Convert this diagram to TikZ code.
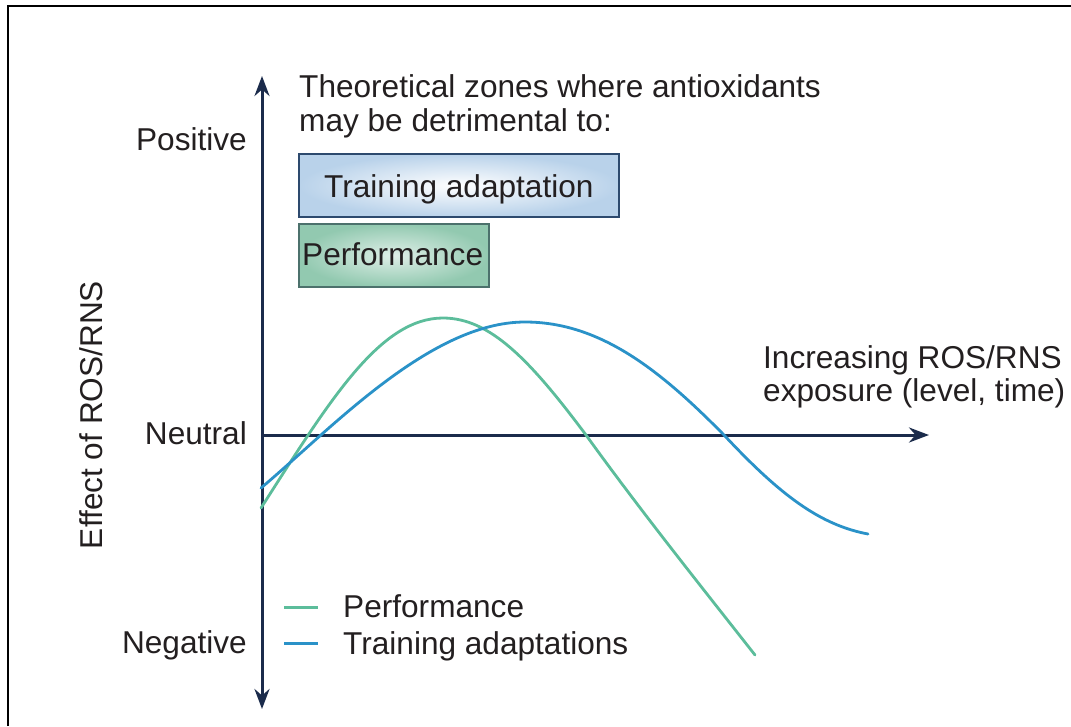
\documentclass[tikz,border=0pt]{standalone}
\usepackage{fontspec}
\setmainfont{Liberation Sans}
\usetikzlibrary{arrows.meta}
\definecolor{navy}{HTML}{1B2B4B}
\definecolor{perfgreen}{HTML}{5CBD9B}
\definecolor{trainblue}{HTML}{2A92C8}
\definecolor{boxblue}{HTML}{B9D2EA}
\definecolor{boxblueline}{HTML}{2D4A6E}
\definecolor{boxgreen}{HTML}{92C9B0}
\definecolor{boxgreenline}{HTML}{4C716C}
\definecolor{txt}{HTML}{231F20}
\begin{document}
\begin{tikzpicture}[x=1pt,y=-1pt,
  lbl/.style={font=\fontsize{31.6}{34}\selectfont, text=txt, inner sep=0pt},
  axisline/.style={draw=navy, line width=3pt},
  axtip/.style={-{Stealth[length=20pt,width=15pt]}},
  curve/.style={line width=2.8pt, line cap=round},
  zonebox/.style={line width=2.2pt}]
\useasboundingbox (0,0) rectangle (1071,726);
% frame
\draw[line width=2pt] (8.3,726) -- (8.3,6.3) -- (1071,6.3);
% axes
\coordinate (org) at (262,435);
\coordinate (ytop) at (262,76);
\coordinate (ybot) at (262,709);
\coordinate (xend) at (929,435);
\draw[axisline, {Stealth[length=20pt,width=15pt]}-{Stealth[length=20pt,width=15pt]}] (ybot) -- (ytop);
\draw[axisline, axtip] (org) -- (xend);
% axis labels
\node[lbl, anchor=base east] (pos) at (247,150) {Positive};
\node[lbl, anchor=base east] (neu) at (247,444) {Neutral};
\node[lbl, anchor=base east] (neg) at (247,653) {Negative};
\node[lbl, anchor=base, rotate=90] (eff) at (102,415) {Effect of ROS/RNS};
\node[lbl, anchor=base west] (xl1) at (763,368) {Increasing ROS/RNS};
\node[lbl, anchor=base west] (xl2) at (763,401) {exposure (level, time)};
% title
\node[lbl, anchor=base west] (t1) at (299,97) {Theoretical zones where antioxidants};
\node[lbl, anchor=base west] (t2) at (299,131) {may be detrimental to:};
% zone boxes
\draw[zonebox, draw=boxblueline, inner color=white, outer color=boxblue] (299,154) rectangle (619,217);
\node[lbl, anchor=base west] (tbox) at (324,197) {Training adaptation};
\draw[zonebox, draw=boxgreenline, inner color=white!70!boxgreen, outer color=boxgreen] (299,224) rectangle (489,287);
\node[lbl, anchor=base west] (pbox) at (302,265) {Performance};
% curves
\draw[curve, perfgreen] (261,508) .. controls (330,400) and (380,318) .. (443,318)
  .. controls (490,318) and (530,360) .. (586,435)
  .. controls (640,510) and (700,585) .. (755,655);
\draw[curve, trainblue] (261,488) .. controls (330,430) and (430,322) .. (525,322)
  .. controls (600,322) and (660,370) .. (724,435)
  .. controls (780,495) and (820,525) .. (868,534);
% legend
\coordinate (lg1a) at (284,607); \coordinate (lg1b) at (318,607);
\coordinate (lg2a) at (284,643); \coordinate (lg2b) at (318,643);
\draw[line width=3pt, perfgreen] (lg1a) -- (lg1b);
\draw[line width=3pt, trainblue] (lg2a) -- (lg2b);
\node[lbl, anchor=base west] (lp) at (343,617) {Performance};
\node[lbl, anchor=base west] (lt) at (343,654) {Training adaptations};
\end{tikzpicture}
\end{document}
